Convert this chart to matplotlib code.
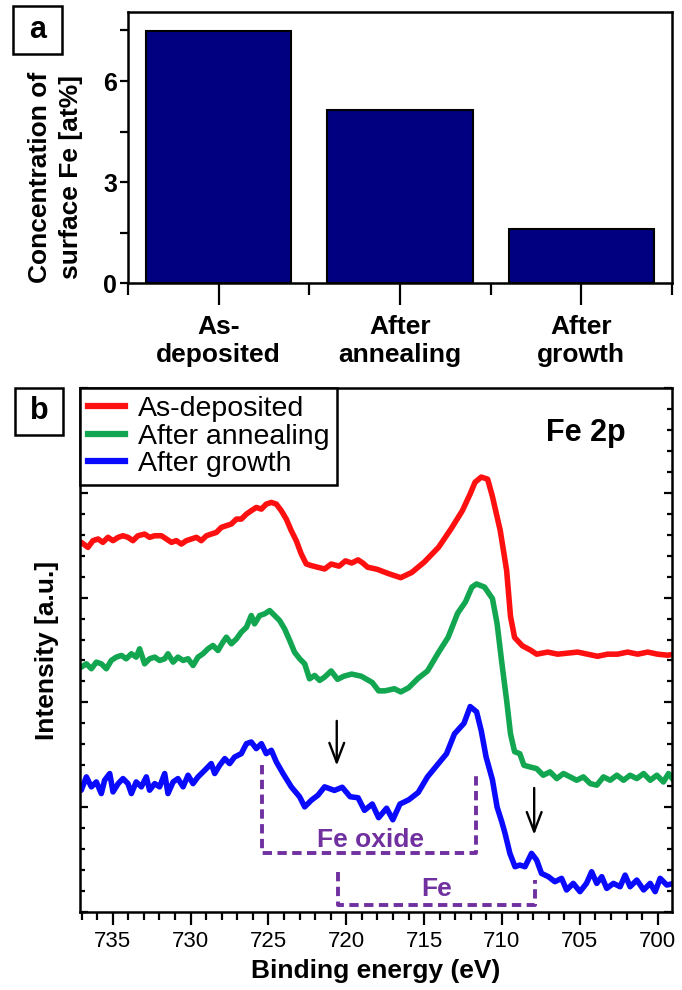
import matplotlib
matplotlib.use("Agg")
from matplotlib import pyplot as plt
from matplotlib.patches import Rectangle
from matplotlib.ticker import MultipleLocator, NullFormatter
import numpy as np

plt.rcParams['font.family'] = ['Liberation Sans', 'DejaVu Sans']

# panel a: surface Fe concentration
stages = ["As-\ndeposited", "After\nannealing", "After\ngrowth"]
fe_conc = [7.48, 5.13, 1.60]

# panel b: Fe 2p spectra (binding energy in eV, intensity in a.u.)
e_red = [737.10, 737.02, 736.59, 736.27, 735.94, 735.63, 735.30, 734.98, 734.65, 734.34,
         734.02, 733.70, 733.38, 732.95, 732.63, 732.30, 731.87, 731.55, 731.23, 730.91,
         730.59, 730.27, 729.95, 729.62, 729.31, 728.98, 728.67, 728.34, 728.02, 727.70,
         727.38, 727.05, 726.74, 726.41, 726.10, 725.78, 725.45, 725.14, 724.81, 724.49,
         724.17, 723.85, 723.53, 723.21, 722.89, 722.57, 722.24, 721.82, 721.39,
         720.97, 720.46, 720.05, 719.65, 719.24, 718.94, 718.63, 718.02, 717.31, 716.91,
         716.50, 715.79, 714.98, 714.07, 713.25, 712.54, 712.04, 711.73, 711.33, 710.92,
         710.62, 710.11, 709.70, 709.45, 709.19, 708.69, 708.18, 707.77, 707.06, 706.42,
         705.78, 705.14, 704.50, 703.86, 703.21, 702.57, 701.93, 701.28, 700.64, 700.00,
         699.35, 698.95]
i_red = [3.53, 3.527, 3.479, 3.543, 3.559, 3.527, 3.575, 3.543, 3.575, 3.590,
         3.575, 3.543, 3.590, 3.606, 3.575, 3.590, 3.590, 3.559, 3.527, 3.543,
         3.511, 3.543, 3.559, 3.575, 3.543, 3.590, 3.606, 3.622, 3.670, 3.686,
         3.702, 3.749, 3.749, 3.797, 3.829, 3.860, 3.844, 3.892, 3.908, 3.892,
         3.829, 3.749, 3.638, 3.543, 3.416, 3.321, 3.305, 3.289, 3.273,
         3.32, 3.30, 3.35, 3.33, 3.36, 3.33, 3.29, 3.27, 3.23, 3.21,
         3.19, 3.24, 3.34, 3.48, 3.66, 3.83, 3.99, 4.10, 4.15, 4.13,
         3.97, 3.64, 3.26, 2.82, 2.62, 2.54, 2.50, 2.46, 2.48, 2.46,
         2.47, 2.48, 2.46, 2.44, 2.46, 2.46, 2.48, 2.46, 2.48, 2.46,
         2.45, 2.46]

e_green = [737.10, 737.02, 736.69, 736.37, 736.05, 735.73, 735.41, 735.09, 734.77, 734.44,
           734.13, 733.80, 733.49, 733.27, 732.95, 732.63, 732.30, 731.99, 731.66, 731.45,
           731.12, 730.81, 730.48, 730.16, 729.84, 729.52, 729.20, 728.88, 728.56, 728.24,
           727.92, 727.70, 727.38, 727.05, 726.74, 726.41, 726.10, 725.89, 725.56, 725.24,
           724.92, 724.60, 724.28, 723.96, 723.63, 723.32, 722.99, 722.67, 722.36, 722.03,
           721.71, 721.39,
           720.97, 720.56, 720.15, 719.65, 719.04, 718.33, 717.92, 717.52, 716.91, 716.50,
           715.99, 715.38, 714.78, 714.06, 713.46, 712.85, 712.34, 711.93, 711.63, 711.12,
           710.61, 710.31, 710.01, 709.70, 709.45, 709.19, 708.85, 708.59, 708.20, 707.77,
           707.35, 706.91, 706.48, 706.05, 705.62, 705.20, 704.77, 704.33, 703.91, 703.48,
           703.05, 702.62, 702.19, 701.77, 701.34, 700.90, 700.48, 700.05, 699.63, 699.30,
           698.98]
i_green = [2.34, 2.336, 2.368, 2.321, 2.384, 2.368, 2.321, 2.400, 2.432, 2.448,
           2.416, 2.464, 2.432, 2.511, 2.368, 2.416, 2.432, 2.400, 2.416, 2.464,
           2.384, 2.432, 2.400, 2.416, 2.352, 2.432, 2.464, 2.511, 2.543, 2.495,
           2.575, 2.622, 2.559, 2.606, 2.670, 2.717, 2.829, 2.749, 2.829, 2.845,
           2.876, 2.829, 2.781, 2.702, 2.590, 2.479, 2.416, 2.368, 2.225, 2.257,
           2.210, 2.241,
           2.30, 2.22, 2.25, 2.27, 2.25, 2.19, 2.11, 2.11, 2.13, 2.10,
           2.14, 2.23, 2.30, 2.48, 2.62, 2.85, 2.96, 3.10, 3.13, 3.10,
           2.99, 2.75, 2.38, 2.02, 1.70, 1.53, 1.51, 1.40, 1.384, 1.368,
           1.305, 1.337, 1.273, 1.321, 1.289, 1.257, 1.289, 1.225, 1.21, 1.289,
           1.257, 1.305, 1.257, 1.305, 1.273, 1.321, 1.257, 1.305, 1.241, 1.321,
           1.257]

e_blue = [737.10, 737.02, 736.69, 736.37, 736.05, 735.73, 735.52, 735.19, 734.98, 734.65,
          734.34, 734.02, 733.80, 733.49, 733.16, 732.84, 732.63, 732.30, 731.99, 731.66,
          731.45, 731.12, 730.81, 730.48, 730.16, 729.84, 729.52, 729.09, 728.67, 728.45,
          728.13, 727.80, 727.49, 727.17, 726.74, 726.41, 726.10, 725.78, 725.45, 725.14,
          724.81, 724.49, 724.06, 723.53, 722.99, 722.67, 722.24, 721.82, 721.39,
          720.76, 720.26, 719.75, 719.24, 718.83, 718.33, 717.92, 717.41, 717.01, 716.55,
          715.99, 715.38, 714.78, 714.06, 713.56, 713.05, 712.44, 712.04, 711.63, 711.33,
          711.02, 710.61, 710.31, 710.01, 709.80, 709.49, 709.16, 708.85, 708.52, 708.10,
          707.77, 707.46, 707.02, 706.60, 706.17, 705.85, 705.42, 704.99, 704.57, 704.24,
          703.91, 703.59, 703.27, 702.84, 702.41, 702.09, 701.77, 701.34, 700.90, 700.48,
          700.16, 699.84, 699.41, 698.98]
i_blue = [1.19, 1.162, 1.289, 1.194, 1.241, 1.130, 1.257, 1.321, 1.146, 1.225,
          1.273, 1.225, 1.130, 1.241, 1.194, 1.289, 1.162, 1.225, 1.194, 1.321,
          1.130, 1.241, 1.273, 1.194, 1.305, 1.225, 1.289, 1.352, 1.416, 1.321,
          1.400, 1.464, 1.416, 1.479, 1.511, 1.606, 1.622, 1.559, 1.606, 1.511,
          1.543, 1.432, 1.321, 1.194, 1.098, 1.003, 1.067, 1.114, 1.194,
          1.16, 1.19, 1.10, 1.09, 0.97, 1.03, 0.90, 0.99, 0.88, 1.03,
          1.07, 1.14, 1.29, 1.42, 1.51, 1.70, 1.80, 1.96, 1.91, 1.73,
          1.48, 1.26, 1.00, 0.86, 0.749, 0.559, 0.432, 0.448, 0.432, 0.559,
          0.495, 0.368, 0.337, 0.289, 0.321, 0.210, 0.273, 0.194, 0.273, 0.384,
          0.273, 0.337, 0.225, 0.273, 0.241, 0.352, 0.241, 0.305, 0.210, 0.273,
          0.194, 0.321, 0.257, 0.273]

# peak assignment brackets and arrows
oxide_e = [725.38, 711.68]
metal_e = [720.56, 707.88]
arrow_e = [720.61, 707.93]

purple = '#7030a0'

fig = plt.figure(figsize=(6.82, 9.90), dpi=100)

# ---- panel a ----
ax1 = fig.add_axes([0.1877, 0.7141, 0.7976, 0.2738])
x = np.arange(len(stages))
ax1.bar(x, fe_conc, width=0.8, color='#000080', edgecolor='black', linewidth=1.5)
ax1.set_xlim(-0.5, 2.5)
ax1.set_ylim(0, 8.05)
ax1.set_xticks(x)
ax1.set_xticklabels(stages, fontsize=19, fontweight='bold')
ax1.set_xticks([-0.5, 0.5, 1.5, 2.5], minor=True)
ax1.set_yticks([0, 3, 6])
ax1.set_yticklabels(['0', '3', '6'], fontsize=18, fontweight='bold')
ax1.set_yticks([1.5, 4.5, 7.5], minor=True)
ax1.tick_params(axis='x', which='major', length=16, width=1.6, pad=7)
ax1.tick_params(axis='x', which='minor', length=8.5, width=1.6)
ax1.tick_params(axis='y', which='both', length=6, width=1.6, pad=2)
ax1.set_ylabel("Concentration of\nsurface Fe [at%]", fontsize=19, fontweight='bold',
               linespacing=1.4)
ax1.yaxis.set_label_coords(-0.082, 0.39)
for s in ax1.spines.values():
    s.set_linewidth(1.8)

# ---- panel b ----
ax2 = fig.add_axes([0.1173, 0.0788, 0.868, 0.5293])
ax2.plot(e_red, i_red, color='#ff1010', lw=4, label='As-deposited')
ax2.plot(e_green, i_green, color='#12a650', lw=4, label='After annealing')
ax2.plot(e_blue, i_blue, color='#0a0aff', lw=4, label='After growth')
ax2.set_xlim(737.1, 699.08)
ax2.set_ylim(0, 5)
ax2.xaxis.set_major_locator(MultipleLocator(5))
ax2.xaxis.set_minor_locator(MultipleLocator(1))
ax2.yaxis.set_major_locator(MultipleLocator(1))
ax2.yaxis.set_minor_locator(MultipleLocator(0.2))
ax2.yaxis.set_major_formatter(NullFormatter())
ax2.tick_params(axis='x', which='major', length=9, width=1.6, labelsize=16, pad=5)
ax2.tick_params(axis='x', which='minor', length=5.5, width=1.6)
ax2.tick_params(axis='y', which='major', direction='in', left=True, right=True,
                length=6, width=1.6)
ax2.tick_params(axis='y', which='minor', direction='in', left=True, right=True,
                length=3.5, width=1.6)
ax2.set_xlabel("Binding energy (eV)", fontsize=19, fontweight='bold', labelpad=5)
ax2.set_ylabel("Intensity [a.u.]", fontsize=19, fontweight='bold')
ax2.yaxis.set_label_coords(-0.035, 0.5)
for s in ax2.spines.values():
    s.set_linewidth(1.8)

leg = ax2.legend(loc='upper left', bbox_to_anchor=(0, 1), borderaxespad=0,
                 fontsize=20.5, handlelength=1.3, handletextpad=0.45, labelspacing=0.06,
                 borderpad=0.28, fancybox=False, framealpha=1)
leg.get_frame().set_edgecolor('black')
leg.get_frame().set_linewidth(1.8)
for h in leg.get_lines():
    h.set_linewidth(4.5)

ax2.text(704.6, 4.57, "Fe 2p", fontsize=22, fontweight='bold', ha='center', va='center')

dash = (0, (2.4, 1.4))
ax2.plot([oxide_e[0], oxide_e[0], oxide_e[1], oxide_e[1]], [1.40, 0.565, 0.565, 1.30],
         color=purple, lw=2.8, ls=dash)
ax2.plot([metal_e[0], metal_e[0], metal_e[1], metal_e[1]], [0.384, 0.067, 0.067, 0.305],
         color=purple, lw=2.8, ls=dash)
ax2.text(718.43, 0.69, "Fe oxide", color=purple, fontsize=19,
         fontweight='bold', ha='center', va='center')
ax2.text(714.17, 0.22, "Fe", color=purple, fontsize=19,
         fontweight='bold', ha='center', va='center')

for ex, (y0, y1) in zip(arrow_e, [(1.85, 1.37), (1.21, 0.71)]):
    ax2.annotate('', xy=(ex, y1), xytext=(ex, y0),
                 arrowprops=dict(arrowstyle='->,head_length=1.0,head_width=0.38',
                                 lw=1.7, color='black', mutation_scale=14))

# panel letters
for (x0, y0, w, h), letter in [((0.019, 0.9455, 0.0718, 0.0485), 'a'),
                               ((0.022, 0.5606, 0.0704, 0.0475), 'b')]:
    fig.add_artist(Rectangle((x0, y0), w, h, transform=fig.transFigure,
                             fill=False, lw=1.8, ec='black'))
    fig.text(x0 + w / 2, y0 + h / 2, letter, fontsize=22, fontweight='bold',
             ha='center', va='center')

fig.savefig("out.png", dpi=100)
